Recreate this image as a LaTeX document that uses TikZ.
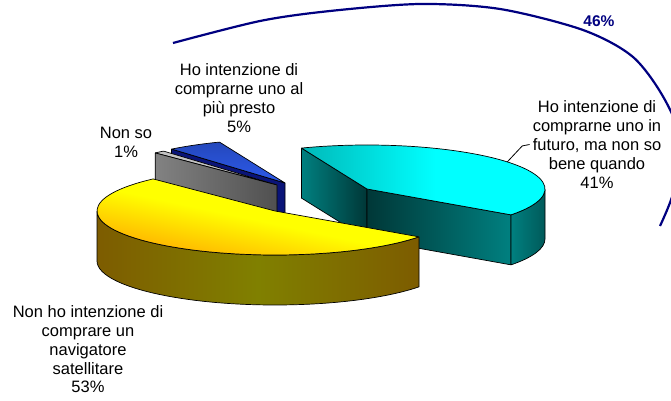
\documentclass[tikz,border=0pt]{standalone}
\usepackage{fontspec}
\setmainfont{Liberation Sans}
\usetikzlibrary{calc}
\definecolor{navyarc}{RGB}{0,0,128}
\definecolor{yelTop}{RGB}{255,255,0}
\definecolor{yelRim}{RGB}{255,160,0}
\definecolor{olvSide}{RGB}{128,128,0}
\definecolor{brnSide}{RGB}{125,92,0}
\definecolor{cyaTop}{RGB}{0,255,255}
\definecolor{cyaDim}{RGB}{0,185,185}
\definecolor{tealSide}{RGB}{0,128,128}
\definecolor{tealDark}{RGB}{0,55,55}
\definecolor{bluTop}{RGB}{45,90,235}
\definecolor{bluSide}{RGB}{10,20,120}
\definecolor{gryTop}{RGB}{195,195,195}
\definecolor{gryFace}{RGB}{130,130,130}
\definecolor{gryDark}{RGB}{80,80,80}
\begin{document}
\begin{tikzpicture}[>=latex,line join=bevel,
    pie/.style={x radius=178bp,y radius=44bp},
    face/.style={draw=black,line width=0.7bp},
    lbl/.style={align=center,inner sep=0pt,text=black,font=\fontsize{16.5bp}{18.8bp}\selectfont},
  ]
  \useasboundingbox (0bp,0bp) rectangle (671bp,401bp);
  %%
  \coordinate (B) at (285bp,218bp);
  \coordinate (G) at (277bp,216bp);
  \coordinate (C) at (367bp,212bp);
  \coordinate (Y) at (275bp,190bp);
  % blue slice 5%
  \draw [face,fill=bluSide] (B) -- ++(129.6:178bp and 44bp) -- ++(0bp,-50bp) -- ($(B)+(0bp,-50bp)$) -- cycle;
  \draw [face,top color=bluTop!80!black,bottom color=bluTop] (B) -- ++(111.6:178bp and 44bp) arc[pie,start angle=111.6,end angle=129.6] -- cycle;
  % grey slice 1%
  \draw [face,fill=gryTop] (G) -- ++(129.6:178bp and 44bp) arc[pie,start angle=129.6,end angle=133.2] -- cycle;
  \draw [face,left color=gryFace,right color=gryDark] (G) -- ++(133.2:178bp and 44bp) -- ++(0bp,-50bp) -- ($(G)+(0bp,-50bp)$) -- cycle;
  % cyan slice 41%
  \draw [face,left color=tealSide,right color=tealDark] (C) -- ++(111.6:178bp and 44bp) -- ++(0bp,-50bp) -- ($(C)+(0bp,-50bp)$) -- cycle;
  \draw [face,left color=tealDark,right color=tealSide] (C) -- ++(-36:178bp and 44bp) -- ++(0bp,-50bp) -- ($(C)+(0bp,-50bp)$) -- cycle;
  \draw [face,left color=tealSide,right color=tealSide!70!black] ($(C)+(-36:178bp and 44bp)$) arc[pie,start angle=-36,end angle=0] -- ++(0bp,-50bp) arc[pie,start angle=0,end angle=-36] -- cycle;
  \draw [face,left color=cyaDim,right color=cyaTop,middle color=cyaTop] (C) -- ++(-36:178bp and 44bp) arc[pie,start angle=-36,end angle=111.6] -- cycle;
  % yellow slice 53%
  \draw [face,left color=brnSide,right color=brnSide,middle color=olvSide] ($(Y)+(180:178bp and 44bp)$) arc[pie,start angle=180,end angle=324] -- ++(0bp,-50bp) arc[pie,start angle=324,end angle=180] -- cycle;
  \draw [face,top color=yelTop,bottom color=yelRim,middle color=yelTop,shading angle=-12] (Y) -- ++(133.2:178bp and 44bp) arc[pie,start angle=133.2,end angle=324] -- cycle;
  % labels
  \node (lblyel) at (88bp,51.5bp) [lbl] {Non ho intenzione di\\comprare un\\navigatore\\satellitare\\53\%};
  \node (lblblu) at (239bp,303bp) [lbl] {Ho intenzione di\\comprarne uno al\\più presto\\5\%};
  \node (lblgry) at (126bp,258.5bp) [lbl] {Non so\\1\%};
  \node (lblcya) at (597bp,256.5bp) [lbl] {Ho intenzione di\\comprarne uno in\\futuro, ma non so\\bene quando\\41\%};
  \node (lblsum) at (599bp,380bp) [inner sep=0pt,text=navyarc,font=\bfseries\fontsize{15.5bp}{18bp}\selectfont] {46\%};
  % leader and brace arc
  \coordinate (cyaedge) at ($(C)+(38:178bp and 44bp)$);
  \draw [line width=0.8bp] (cyaedge) -- ++(15bp,16bp) -- ([xshift=-3bp]lblcya.west);
  \draw [navyarc,line width=2.2bp] plot[smooth] coordinates {(173bp,358bp) (260bp,380bp) (330bp,390bp) (420bp,397bp) (500bp,392bp) (583bp,371bp) (633bp,344bp) (665bp,301bp) (684bp,251bp) (672bp,204bp) (660bp,175bp)};
  %
\end{tikzpicture}
\end{document}
